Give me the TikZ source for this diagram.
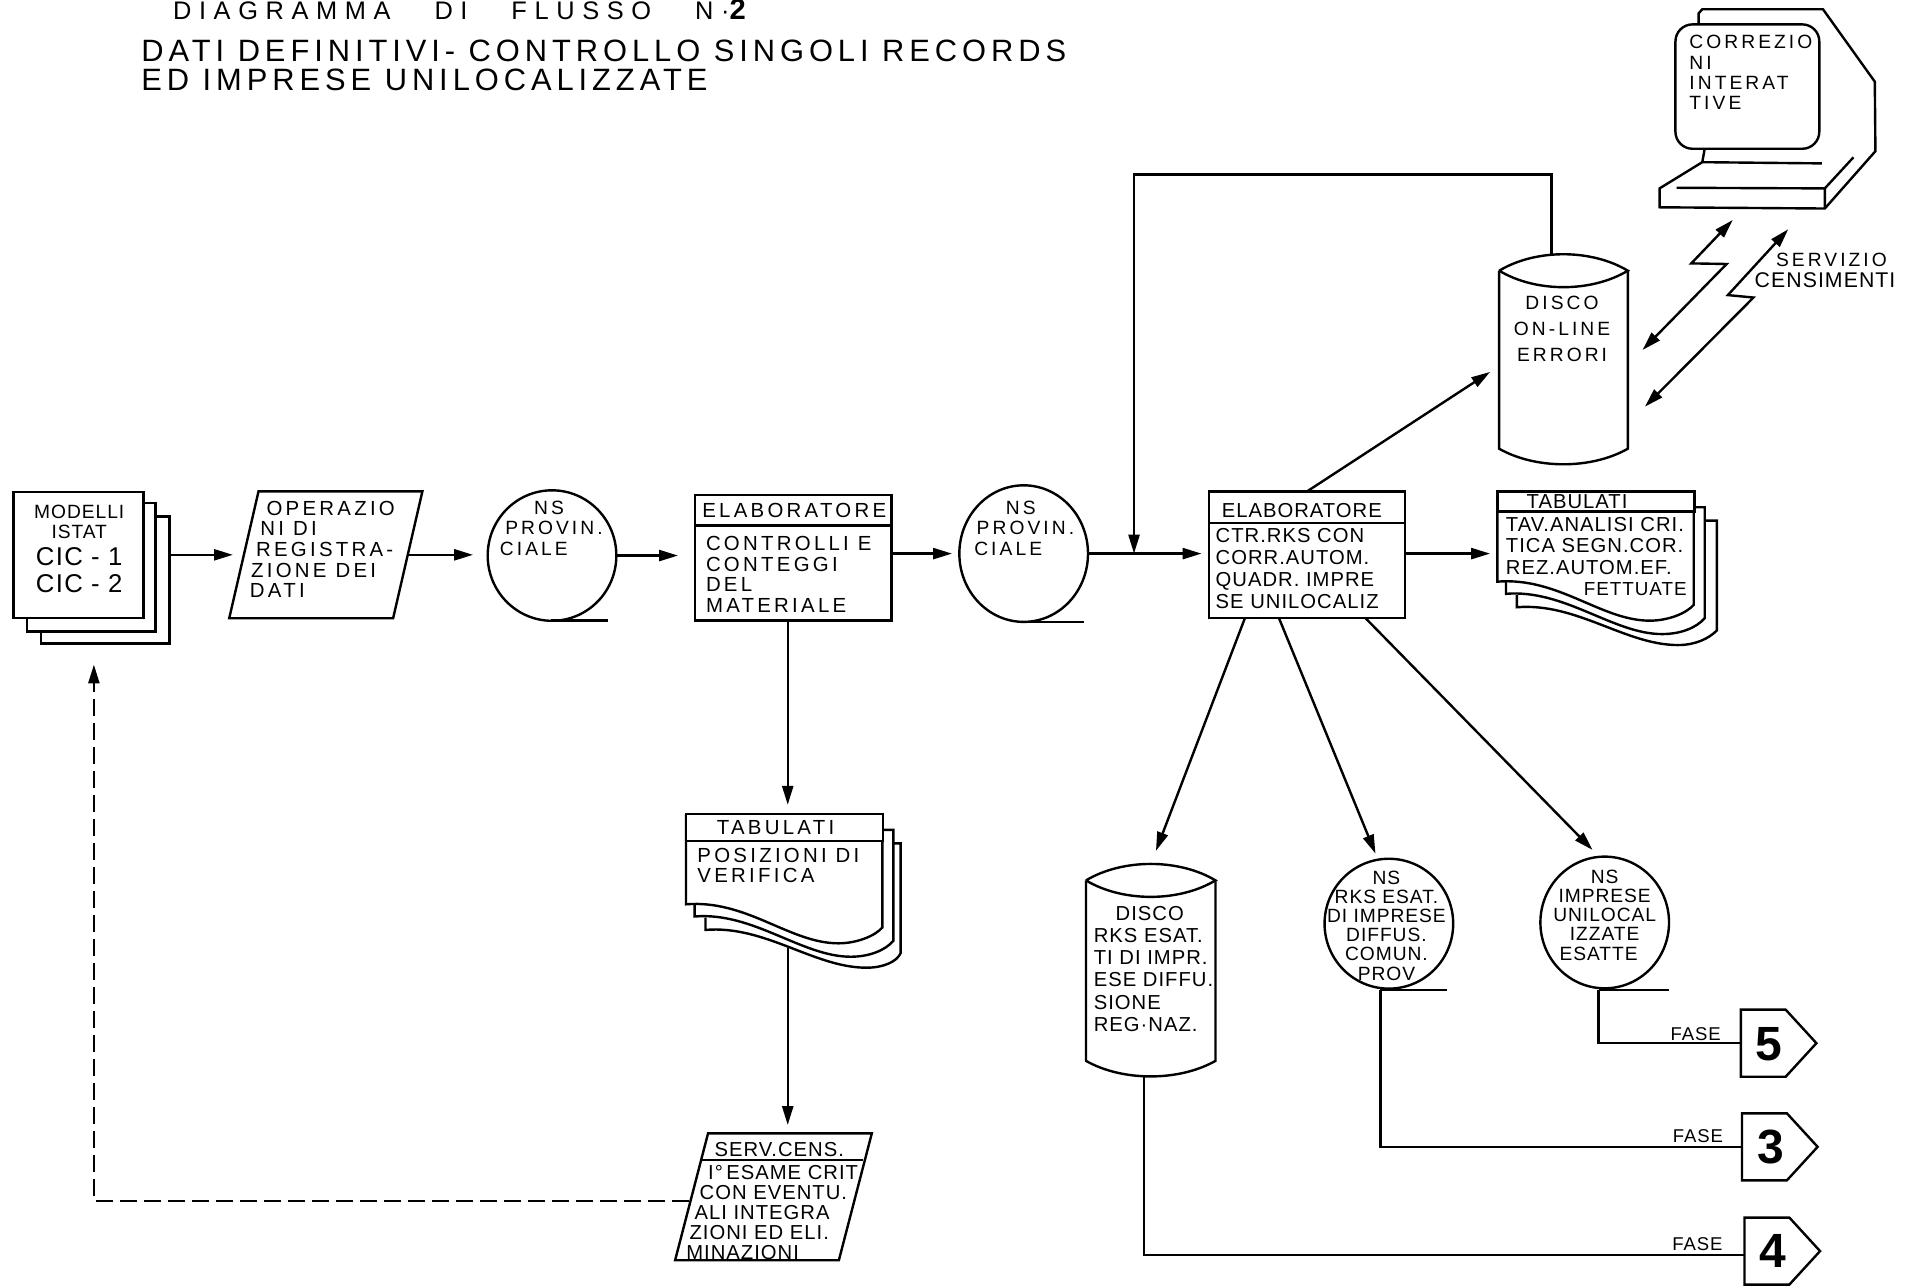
\documentclass[tikz,border=0pt]{standalone}
\usepackage{fontspec}
\usetikzlibrary{arrows.meta,shapes.geometric,shapes.symbols}
\newfontfamily\widefont[LetterSpace=16]{Liberation Sans}
\newfontfamily\tightfont[LetterSpace=5]{Liberation Sans}
\newfontfamily\headfont[LetterSpace=30]{Liberation Sans}
\newdimen\pxu \pxu=0.0125cm
\tikzset{
  box/.style 2 args={draw, rectangle, fill=white, minimum width=#1\pxu, minimum height=#2\pxu, inner sep=0pt, outer sep=0pt},
  tape/.style 2 args={draw, ellipse, minimum width=#1\pxu, minimum height=#2\pxu, inner sep=0pt, outer sep=0pt},
  fasebox/.style={draw, signal, signal to=east, signal from=nowhere, signal pointer angle=95, minimum width=62\pxu, minimum height=55\pxu, inner sep=0pt, outer sep=0pt},
  ghost/.style 2 args={rectangle, minimum width=#1\pxu, minimum height=#2\pxu, inner sep=0pt, outer sep=0pt},
  lblw/.style={font=\widefont\fontsize{5.6}{#1}\selectfont, align=left, inner sep=0pt},
  lblb/.style={font=\widefont\fontsize{5.95}{#1}\selectfont, align=left, inner sep=0pt},
  lblt/.style={font=\tightfont\fontsize{5.9}{#1}\selectfont, align=left, inner sep=0pt},
  lblc/.style={font=\tightfont\fontsize{5.6}{#1}\selectfont, align=center, inner sep=0pt},
  fasetext/.style={font=\tightfont\fontsize{5.4}{6}\selectfont, inner sep=0pt},
  digit/.style={font=\fontspec{Liberation Sans Bold}\fontsize{14}{14}\selectfont, inner sep=0pt},
  titlew/.style={font=\widefont\fontsize{9}{#1}\selectfont, align=left, inner sep=0pt},
  freccia/.style={->, shorten >=#1\pxu},
}
% disc outline round a ghost node
\newcommand{\discoshape}[1]{
  \draw ([yshift=-13\pxu]#1.north west) .. controls +(30,-18) and +(-30,-18) .. ([yshift=-13\pxu]#1.north east)
    .. controls +(-30,18) and +(30,18) .. ([yshift=-13\pxu]#1.north west);
  \draw ([yshift=-13\pxu]#1.north west) -- ([yshift=13\pxu]#1.south west)
    .. controls +(30,17) and +(-30,17) .. ([yshift=13\pxu]#1.south east) -- ([yshift=-13\pxu]#1.north east);
}
% slanted card round a ghost node
\newcommand{\parashape}[2]{
  \draw ([xshift=#2\pxu]#1.north west) -- (#1.north east) -- ([xshift=-#2\pxu]#1.south east) -- (#1.south west) -- cycle;
}
% listing sheets, origin at the top left corner of the front sheet
\newcommand{\foglishape}[3]{
  \begin{scope}[shift={(#1,#2)}]
    \draw (0,0) -- (0,74) .. controls (50,70) and (85,106) .. (125,106) .. controls (140,106) and (155,100) .. (161,93) -- (161,0);
    \draw (161,13) -- (170,13) -- (170,104) .. controls (163,112) and (150,117) .. (135,117) .. controls (95,117) and (55,80) .. (7,84) -- (7,74);
    \draw (170,24) -- (#3,24) -- (#3,114) .. controls (173,121) and (162,126) .. (148,126) .. controls (105,126) and (65,91) .. (16,95) -- (16,85);
  \end{scope}
}
\begin{document}
\begin{tikzpicture}[x=0.0125cm,y=-0.0125cm,line width=0.7pt,>={Triangle[length=5.5pt,width=3.2pt]}]
\useasboundingbox (0,0) rectangle (1568,1054);

\node[font=\headfont\fontsize{7.4}{8}\selectfont, inner sep=0pt, anchor=base west] (titolo) at (141,16) {DIAGRAMMA\ \ \ DI\ \ \ FLUSSO\ \ \ N\textperiodcentered{\fontspec{Liberation Sans Bold}\fontsize{8.5}{8}\selectfont 2}};
\node[titlew=8.5, anchor=north west] (sottotitolo) at (115,32) {DATI DEFINITIVI- CONTROLLO SINGOLI RECORDS\\ED IMPRESE UNILOCALIZZATE};

% first row
\node[box={105.5}{104}] (modellic) at (86.25,475.65) {};
\node[box={105.5}{105.3}] (modellib) at (74.75,465.35) {};
\node[box={106.8}{103.5}] (modellia) at (64.4,455.25) {};
\node[lblc=6] (modellit) at (65,450) {MODELLI\\[-0.2pt]ISTAT\\[2pt]{\fontsize{7.5}{7}\selectfont CIC - 1}\\[1.8pt]{\fontsize{7.5}{7}\selectfont CIC - 2}};

\node[ghost={158.4}{104}] (operazione) at (267.2,455) {};
\parashape{operazione}{24}
\node[lblb=6.0, anchor=west] (operazionet) at (204,450.5) {\hspace*{13.6\pxu}OPERAZIO\\\hspace*{8.6\pxu}NI DI\\\hspace*{5\pxu}REGISTRA-\\\hspace*{1\pxu}ZIONE DEI\\DATI};

\node[tape={105.5}{107}] (nsprova) at (452.7,455.6) {};
\coordinate (codaa) at (452,509);
\draw (codaa) -- ++(47,0);
\node[lblw=6.0, anchor=west] (nsprovat) at (409,433) {\hspace*{28\pxu}NS\\\hspace*{4.4\pxu}PROVIN.\\CIALE};

\node[box={161}{78}] (elaba) at (650.5,470) {};
\node[box={161}{25}] (elabah) at (650.5,418.5) {};
\node[lblb=6.4, anchor=west] (elabaht) at (575,419) {ELABORATORE};
\node[lblb=6.1, anchor=west] (elabat) at (578,471) {CONTROLLI E\\CONTEGGI\\DEL\\MATERIALE};

\node[tape={105.5}{112}] (nsprovb) at (839.5,454) {};
\coordinate (codab) at (842,510);
\draw (codab) -- ++(47,0);
\node[lblw=6.0, anchor=west] (nsprovbt) at (798,433) {\hspace*{26\pxu}NS\\\hspace*{2\pxu}PROVIN.\\CIALE};

\node[box={161}{78}] (elabb) at (1071.9,468) {};
\node[box={161}{26}] (elabbh) at (1071.9,416) {};
\node[lblt=6, anchor=west] (elabbht) at (1001,419) {ELABORATORE};
\node[lblt=6.4, anchor=west] (elabbt) at (996,466) {CTR.RKS CON\\CORR.AUTOM.\\QUADR. IMPRE\\SE UNILOCALIZ};

\foglishape{1228}{403}{180}
\node[box={161.6}{16.6}] (tabb) at (1308.8,411.3) {};
\node[lblt=6, anchor=west] (tabbt) at (1251,411.4) {TABULATI};
\node[lblt=6.2, anchor=west] (tabbc) at (1234,456.5) {TAV.ANALISI CRI.\\TICA SEGN.COR.\\REZ.AUTOM.EF.\\\hspace*{64\pxu}{\fontsize{5.5}{6}\selectfont FETTUATE}};

% on-line disc and terminal
\node[ghost={105.5}{172}] (discoa) at (1282.2,295) {};
\discoshape{discoa}
\node[lblw=7.6, align=center, anchor=center] (discoat) at (1281,270) {DISCO\\ON-LINE\\ERRORI};

\draw (1393,19) -- (1393,11) -- (1396,7.6) -- (1495,7.6) -- (1537.5,67) -- (1538,124) -- (1496.5,171) -- (1361,170) -- (1361,154.5) -- (1396,133) -- (1494,134);
\draw (1375,154) -- (1496.5,154.5) -- (1496.5,171);
\draw (1496.5,154.5) -- (1520,129);
\draw (1398,122) -- (1396,133);
\node[box={118}{102}, rounded corners=14\pxu] (schermo) at (1433,71) {};
\node[lblw=5.9, anchor=west] (schermot) at (1384.5,59.5) {CORREZIO\\NI\\INTERAT\\TIVE};

\coordinate (linkaa) at (1421,180.4);
\coordinate (linkab) at (1347,287);
\coordinate (linkba) at (1466.5,188);
\coordinate (linkbb) at (1349,333.5);
\draw[<->] (linkaa) -- (1387,216) -- (1416,216.5) -- (linkab);
\draw[<->] (linkba) -- (1417,242) -- (1438,244) -- (linkbb);
\node[lblw=6, anchor=west] (serviziot) at (1455.5,213) {SERVIZIO};
\node[lblt=6, font=\tightfont\fontsize{6.2}{6}\selectfont, anchor=west] (censimentit) at (1438,229.6) {CENSIMENTI};

% middle column
\coordinate (tabain) at (646,667.6);
\coordinate (tabaout) at (646,777.8);
\foglishape{562.6}{667.6}{176}
\node[box={161.3}{21.9}] (taba) at (643.25,678.55) {};
\node[lblb=6, anchor=center] (tabat) at (636,679) {TABULATI};
\node[lblb=5.8, anchor=west] (tabac) at (571,710) {POSIZIONI DI\\VERIFICA};

\node[ghost={161.3}{104}] (servcens) at (634.3,981.5) {};
\parashape{servcens}{27}
\coordinate (servline) at (575.5,951.4);
\draw (servline) -- (708,951.4);
\node[lblt=6.2, anchor=west] (servcenst) at (585,942.6) {SERV.CENS.};
\node[lblt=5.8, anchor=west] (servcensc) at (561.8,994.5) {\hspace*{18\pxu}I\textdegree\,ESAME CRIT\\\hspace*{11\pxu}CON EVENTU.\\\hspace*{6.8\pxu}ALI INTEGRA\\\hspace*{2.7\pxu}ZIONI ED ELI.\\MINAZIONI};

% lower outputs
\node[ghost={106.2}{174}] (discob) at (943.7,796) {};
\discoshape{discob}
\node[lblt=6.5, anchor=west] (discobt) at (896,794.5) {\hspace*{18\pxu}DISCO\\RKS ESAT.\\TI DI IMPR.\\ESE DIFFU.\\SIONE\\REG\textperiodcentered NAZ.};

\node[tape={105.5}{106.5}] (nsrks) at (1139,757.5) {};
\coordinate (codac) at (1132,812);
\draw (codac) -- ++(55,0);
\node[lblc=5.6] (nsrkst) at (1137,759) {NS\\RKS ESAT.\\DI IMPRESE\\DIFFUS.\hspace*{15\pxu}\\COMUN.\\PROV};

\node[tape={105.5}{108}] (nsimp) at (1316,756.5) {};
\coordinate (codad) at (1311,812);
\draw (codad) -- ++(58,0);
\node[lblc=5.6] (nsimpt) at (1316,750.5) {NS\\IMPRESE\\UNILOCAL\\IZZATE\hspace*{28\pxu}\\ESATTE\hspace*{10\pxu}};

\node[fasebox] (fasec) at (1446,855.5) {};
\node[digit] (fasect) at (1451,856) {5};
\node[fasebox] (faseb) at (1447,940.5) {};
\node[digit] (fasebt) at (1452,941) {3};
\node[fasebox] (fasea) at (1449,1026) {};
\node[digit] (faseat) at (1454,1026) {4};
\node[fasetext, anchor=west] (fasecl) at (1369,848) {FASE};
\node[fasetext, anchor=west] (fasebl) at (1371,932) {FASE};
\node[fasetext, anchor=west] (faseal) at (1370.5,1020) {FASE};

% connectors
\draw[freccia=-3] (modellic.east |- operazione) -- (operazione.west);
\draw[freccia=12, shorten <=-11\pxu] (operazione.east) -- (nsprova.west |- operazione);
\draw[freccia=14] (nsprova.east) -- (elaba.west |- nsprova);
\draw[freccia=6] (elaba.east |- nsprovb) -- (nsprovb.west);
\coordinate (joina) at (930,454);
\draw[freccia=6] (nsprovb.east) -- (elabb.west |- nsprovb);
\draw[->] (discoa.north) ++(-10,0) -- ++(0,-66) -| (joina);
\coordinate (discoain) at (1222,305);
\draw[->] (elabbh.north) -- (discoain);
\draw[freccia=6] (elabb.east |- 1228,454) -- (1228,454);
\draw[->] (tabain |- elaba.south) -- (646,660);
\draw[->] (tabaout) -- (646,922.6);
\coordinate (servback) at (565,985);
\coordinate (backin) at (77,545);
\draw[dash pattern=on 5pt off 2pt,->] (servback) -| (backin);
\coordinate (nsrksin) at (1128,700);
\coordinate (nsimpin) at (1306,697);
\draw[freccia=12] ([xshift=-51\pxu]elabb.south) -- (discob.north);
\draw[->] ([xshift=-23\pxu]elabb.south) -- (nsrksin);
\draw[->] ([xshift=48\pxu]elabb.south) -- (nsimpin);
\draw (codad) |- (fasec.west);
\draw (codac) |- (faseb.west);
\coordinate (codae) at (938,882);
\draw (codae) |- ([yshift=-3\pxu]fasea.west);
\end{tikzpicture}
\end{document}
